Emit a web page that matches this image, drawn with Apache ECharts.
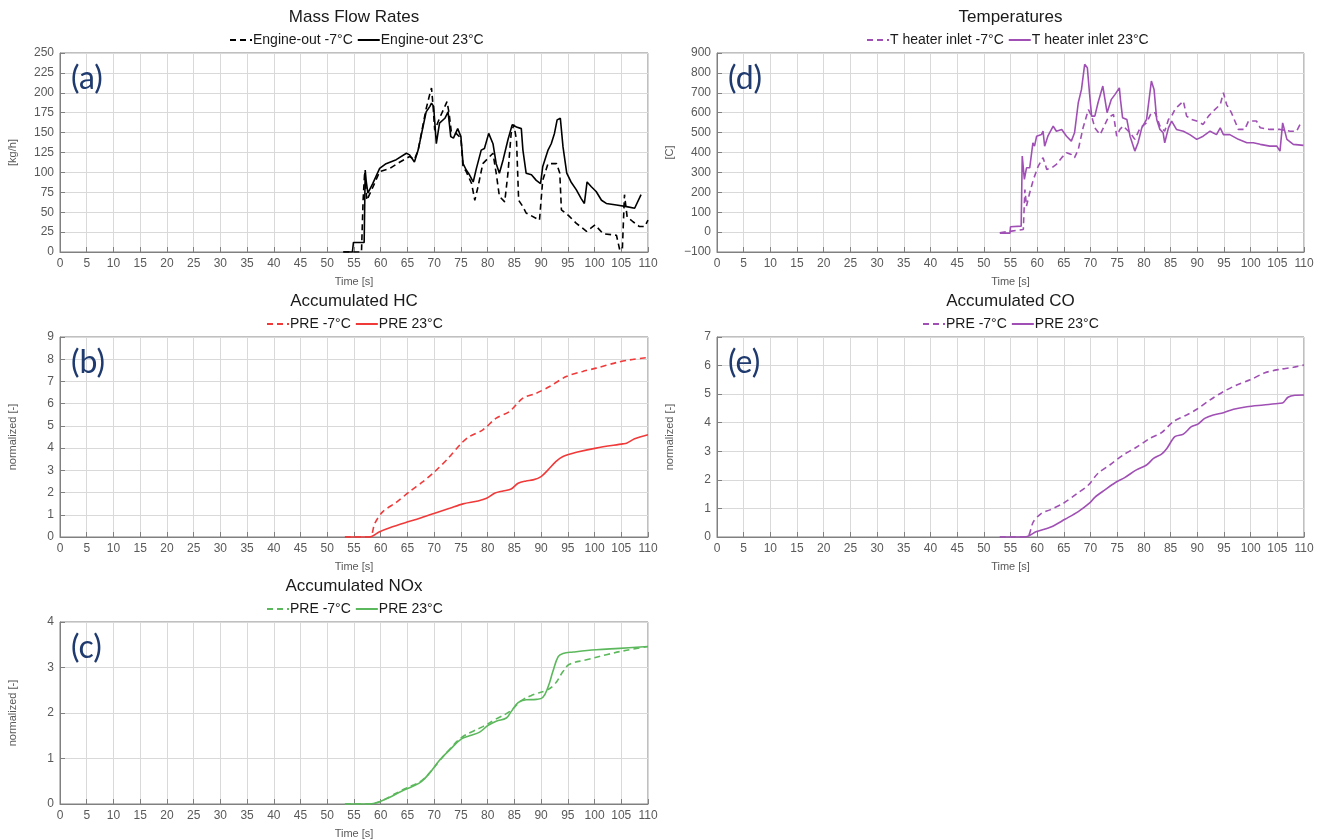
<!DOCTYPE html>
<html lang="en">
<head>
    <meta charset="UTF-8">
    <title>Mass flow, temperatures and accumulated emissions</title>
    <style>
        body { margin: 0; background: #fff; }
        #chart { width: 1320px; height: 840px; }
    </style>
    <script src="https://cdn.jsdelivr.net/npm/echarts@6/dist/echarts.min.js"></script>
</head>
<body>
<div id="chart"></div>
<script>
    // (a) Mass flow rates [kg/h]
    var flowColdT = [53, 56.4, 56.7, 57, 57.4, 58.3, 59.8, 61.7, 63.6, 65.4, 66.3, 67, 67.6, 68.5, 69.2, 69.5, 69.8, 70.1, 71, 72, 72.4, 72.8, 73.2, 74.1, 75, 75.4, 76, 77, 77.6, 78.2, 79.1, 80.4, 81, 81.6, 82.2, 83.2, 83.8, 84.4, 84.9, 85.4, 85.8, 86.6, 87.2, 89.7, 90.3, 91.3, 92.9, 93.5, 93.8, 95.1, 96.6, 98.5, 100.1, 101.6, 104.1, 104.7, 105.2, 105.6, 106.1, 107.2, 108.4, 109.4, 110];
    var flowCold  = [0, 0, 65, 101, 65, 78, 101, 105, 113, 120, 116, 128, 149, 180, 199, 206, 183, 153, 168, 183, 189, 174, 151, 149, 143, 107, 101, 86, 65, 82, 111, 120, 124, 99, 70, 63, 99, 149, 160, 141, 65, 57, 49, 40, 90, 111, 111, 99, 53, 46, 36, 26, 34, 23, 21, 3, 3, 72, 44, 38, 32, 32, 40];
    var flowWarmT = [53, 54.7, 54.9, 56.9, 57.1, 57.3, 57.6, 58.5, 59.8, 61, 62.9, 64.8, 65.4, 66.3, 67, 67.9, 68.5, 69.2, 69.5, 69.9, 70.4, 71, 72, 72.6, 73.1, 73.6, 74.4, 75, 75.4, 76, 76.6, 77.3, 77.9, 78.8, 79.4, 80.2, 81, 81.6, 82.2, 82.9, 83.8, 84.6, 85.4, 86.3, 86.6, 87.2, 88.2, 89.1, 89.9, 90.3, 91.3, 91.9, 92.5, 93, 93.6, 94.1, 94.8, 95.6, 96.6, 97.5, 98.1, 98.6, 99.4, 100.3, 101.3, 102.2, 104.1, 106, 107.5, 108.7];
    var flowWarm  = [0, 0, 12, 12, 103, 88, 74, 86, 105, 111, 116, 124, 122, 113, 128, 157, 176, 183, 187, 183, 136, 162, 168, 176, 145, 143, 155, 145, 111, 103, 97, 88, 105, 128, 130, 149, 136, 111, 99, 116, 141, 160, 157, 155, 128, 99, 97, 90, 86, 107, 128, 136, 149, 166, 168, 132, 99, 88, 78, 67, 61, 88, 82, 76, 65, 61, 59, 57, 55, 72];

    // (d) T heater inlet [C]
    var tempColdT = [53, 55.2, 57.4, 57.7, 58, 58.6, 59.3, 60.2, 61.1, 61.8, 62.7, 63.6, 64.6, 65.5, 66.4, 67, 67.7, 68.6, 69.6, 70.2, 70.8, 71.8, 72.4, 73.3, 74.3, 74.9, 75.5, 76.1, 77.4, 78.3, 79.3, 80.5, 81.4, 82.1, 83, 83.9, 84.6, 85.2, 85.8, 86.4, 87.4, 88, 88.9, 89.9, 91.1, 92.1, 93, 94.3, 94.9, 95.5, 96.4, 97.7, 98.9, 99.6, 101.1, 101.8, 103.6, 105.5, 107.4, 108.6, 109.6];
    var tempCold  = [-3, 5, 13, 214, 131, 198, 265, 332, 374, 315, 323, 340, 374, 399, 390, 374, 415, 524, 616, 583, 524, 490, 524, 575, 591, 482, 516, 533, 499, 466, 524, 549, 600, 600, 533, 507, 566, 583, 616, 633, 658, 583, 566, 558, 541, 583, 608, 641, 700, 641, 600, 516, 516, 558, 558, 524, 516, 516, 507, 507, 558];
    var tempWarmT = [53, 54.9, 55, 57, 57.2, 57.6, 58, 58.6, 59.2, 59.5, 59.9, 60.8, 61.1, 61.4, 62, 63, 63.6, 64.6, 65.5, 66.4, 67, 67.7, 68.3, 68.9, 69.4, 69.8, 70.2, 70.8, 71.4, 72.3, 72.7, 73.1, 73.9, 74.6, 75.4, 75.6, 76, 76.8, 77.4, 78.3, 78.9, 79.6, 80.5, 81.4, 81.9, 82.4, 83, 83.6, 83.9, 84.6, 85.2, 86.1, 87.4, 88.6, 89.9, 91.1, 92.4, 93.6, 94.3, 94.9, 96.1, 97.7, 99.3, 100.5, 101.8, 103.6, 104.9, 105.5, 106, 106.8, 108, 109.9];
    var tempWarm  = [-5, -5, 27, 30, 382, 265, 323, 323, 449, 432, 482, 490, 507, 432, 482, 532, 507, 516, 482, 457, 499, 650, 717, 843, 826, 700, 583, 583, 650, 734, 667, 600, 667, 692, 725, 667, 575, 566, 482, 407, 449, 524, 566, 759, 717, 566, 516, 499, 449, 524, 558, 516, 507, 490, 466, 482, 507, 490, 524, 490, 490, 466, 449, 449, 441, 432, 432, 407, 549, 466, 441, 436];

    // (b) Accumulated HC, normalized
    var hcColdT = [53.3, 57.9, 58.9, 60.4, 62.9, 65.4, 67.9, 70.1, 72.6, 75.1, 76.6, 79.1, 81.6, 84.1, 86.6, 89.1, 91.6, 94.7, 97.8, 100.3, 104.1, 106.6, 109.7, 110];
    var hcCold  = [0, 0, 0.62, 1.14, 1.56, 2.04, 2.49, 2.94, 3.54, 4.22, 4.52, 4.82, 5.35, 5.65, 6.25, 6.47, 6.77, 7.22, 7.45, 7.6, 7.85, 7.97, 8.07, 8.08];
    var hcWarmT = [53.3, 57.9, 59.8, 61.7, 64.8, 67.3, 70.1, 72.9, 75.4, 78.2, 79.8, 81.3, 82.9, 84.4, 85.7, 87.2, 88.5, 90, 91.3, 92.8, 94.1, 96.6, 100.3, 105.3, 106, 107.5, 110];
    var hcWarm  = [0, 0, 0.24, 0.42, 0.66, 0.84, 1.07, 1.29, 1.49, 1.62, 1.74, 1.97, 2.07, 2.16, 2.42, 2.52, 2.57, 2.72, 3.02, 3.4, 3.62, 3.81, 4.0, 4.19, 4.22, 4.42, 4.6];

    // (c) Accumulated NOx, normalized
    var noxColdT = [53.3, 57.9, 59.8, 61.7, 63.9, 66, 67.6, 69.2, 71, 72.9, 75.1, 77.3, 79.1, 81.6, 84.1, 86.3, 88.5, 91, 92.6, 94.1, 95.3, 98.5, 102.2, 106, 110];
    var noxCold  = [0, 0, 0.05, 0.16, 0.3, 0.41, 0.51, 0.69, 0.95, 1.2, 1.46, 1.6, 1.7, 1.87, 2.03, 2.27, 2.4, 2.5, 2.64, 2.91, 3.07, 3.17, 3.28, 3.38, 3.46];
    var noxWarmT = [53.3, 57.9, 59.8, 61.7, 63.9, 66, 67.6, 69.2, 71, 72.9, 75.1, 76.6, 78.5, 80.1, 81.6, 83.5, 84.4, 85.7, 87.2, 89.1, 90.3, 91.3, 92.2, 93.2, 94.1, 96, 100.3, 104.7, 110];
    var noxWarm  = [0, 0, 0.05, 0.15, 0.28, 0.39, 0.49, 0.69, 0.96, 1.19, 1.43, 1.5, 1.58, 1.73, 1.82, 1.89, 2.03, 2.23, 2.29, 2.3, 2.34, 2.57, 2.91, 3.24, 3.31, 3.34, 3.39, 3.42, 3.46];

    // (e) Accumulated CO, normalized
    var coColdT = [53, 58, 59.3, 60.8, 62.4, 64.9, 67.4, 69.6, 71.4, 73.6, 76.1, 78.6, 81.1, 83.3, 85.5, 88, 89.9, 92.4, 94.9, 97.4, 99.9, 102.7, 105.5, 108, 110];
    var coCold  = [0, 0, 0.54, 0.83, 0.95, 1.18, 1.51, 1.82, 2.23, 2.52, 2.87, 3.14, 3.45, 3.65, 4.04, 4.27, 4.47, 4.8, 5.09, 5.32, 5.5, 5.75, 5.87, 5.94, 6.02];
    var coWarmT = [53, 57.7, 59.9, 62.7, 65.2, 67.7, 69.9, 70.8, 72.7, 74.6, 76.4, 78.6, 80.5, 81.8, 83.3, 84.3, 85.8, 87.4, 88.9, 90.2, 91.4, 93, 94.9, 96.8, 99.3, 102.4, 105.5, 106.1, 107, 108.3, 110];
    var coWarm  = [0, 0, 0.19, 0.36, 0.62, 0.89, 1.2, 1.39, 1.65, 1.9, 2.08, 2.35, 2.52, 2.75, 2.9, 3.1, 3.51, 3.6, 3.86, 3.96, 4.15, 4.27, 4.35, 4.47, 4.56, 4.62, 4.68, 4.7, 4.89, 4.96, 4.97];

    var FONT = "'Liberation Sans', Arial, sans-serif";
    var BORDER = '#808080';
    var GRIDLINE = '#d9d9d9';
    var LABEL = '#595959';

    function pairs(xs, ys) {
        return xs.map(function (x, i) { return [x, ys[i]]; });
    }

    // one entry per panel; legendLeft is where the legend row starts
    var panels = [
        { key: 'a', title: 'Mass Flow Rates', box: [60, 53, 588, 199], y: [0, 250, 25], yName: '[kg/h]', color: '#000000', legendLeft: 229,
          names: ['Engine-out -7°C', 'Engine-out 23°C'], data: [pairs(flowColdT, flowCold), pairs(flowWarmT, flowWarm)], smooth: false },
        { key: 'b', title: 'Accumulated HC', box: [60, 337, 588, 200], y: [0, 9, 1], yName: 'normalized [-]', color: '#f03a3a', legendLeft: 266,
          names: ['PRE -7°C', 'PRE 23°C'], data: [pairs(hcColdT, hcCold), pairs(hcWarmT, hcWarm)], smooth: 0.3 },
        { key: 'c', title: 'Accumulated NOx', box: [60, 622, 588, 199], y: [0, 4, 1], yName: 'normalized [-]', color: '#5cb85c', legendLeft: 266,
          names: ['PRE -7°C', 'PRE 23°C'], data: [pairs(noxColdT, noxCold), pairs(noxWarmT, noxWarm)], smooth: 0.4 },
        { key: 'd', title: 'Temperatures', box: [717, 53, 587, 199], y: [-100, 900, 100], yName: '[C]', color: '#a050b4', legendLeft: 866,
          names: ['T heater inlet -7°C', 'T heater inlet 23°C'], data: [pairs(tempColdT, tempCold), pairs(tempWarmT, tempWarm)], smooth: false },
        { key: 'e', title: 'Accumulated CO', box: [717, 337, 587, 200], y: [0, 7, 1], yName: 'normalized [-]', color: '#a050b4', legendLeft: 922,
          names: ['PRE -7°C', 'PRE 23°C'], data: [pairs(coColdT, coCold), pairs(coWarmT, coWarm)], smooth: 0.3 }
    ];

    var option = { animation: false, title: [], legend: [], grid: [], xAxis: [], yAxis: [], series: [], graphic: [] };

    panels.forEach(function (p, i) {
        var left = p.box[0], top = p.box[1], w = p.box[2], h = p.box[3];
        var cx = left + w / 2;
        option.grid.push({ left: left, top: top, width: w, height: h, show: true, borderColor: BORDER, borderWidth: 1 });
        option.title.push({
            text: p.title, left: cx, top: top - 44, textAlign: 'center', padding: 0,
            textStyle: { fontFamily: FONT, fontSize: 17, fontWeight: 'normal', color: '#1a1a1a' }
        });
        var ids = p.names.map(function (n) { return n + ' (' + p.key + ')'; });
        option.legend.push({
            data: ids, left: p.legendLeft, top: top - 20, padding: 0, itemGap: 4, itemWidth: 22, itemHeight: 10,
            selectedMode: false,
            itemStyle: { color: 'rgba(0,0,0,0)', borderColor: 'rgba(0,0,0,0)', borderWidth: 0 },
            textStyle: { fontFamily: FONT, fontSize: 14, color: '#1a1a1a', padding: [0, 0, 0, -4] },
            formatter: function (name) { return name.replace(/ \([a-e]\)$/, ''); }
        });
        option.xAxis.push({
            type: 'value', gridIndex: i, min: 0, max: 110, interval: 5,
            name: 'Time [s]', nameLocation: 'middle', nameGap: 24,
            nameTextStyle: { fontFamily: FONT, fontSize: 11, color: LABEL },
            axisLine: { onZero: false, lineStyle: { color: BORDER } },
            axisTick: { inside: true, length: 5, lineStyle: { color: BORDER } },
            axisLabel: { fontFamily: FONT, fontSize: 12, color: LABEL, margin: 6 },
            splitLine: { lineStyle: { color: GRIDLINE } }
        });
        option.yAxis.push({
            type: 'value', gridIndex: i, min: p.y[0], max: p.y[1], interval: p.y[2],
            name: p.yName, nameLocation: 'middle', nameGap: 42,
            nameTextStyle: { fontFamily: FONT, fontSize: 11, color: LABEL },
            axisLine: { onZero: false, lineStyle: { color: BORDER } },
            axisTick: { inside: true, length: 5, lineStyle: { color: BORDER } },
            axisLabel: {
                fontFamily: FONT, fontSize: 12, color: LABEL, margin: 6,
                formatter: function (v) { return String(v).replace('-', '\u2212'); }
            },
            splitLine: { lineStyle: { color: GRIDLINE } }
        });
        [0, 1].forEach(function (k) {
            option.series.push({
                name: ids[k], type: 'line', xAxisIndex: i, yAxisIndex: i,
                data: p.data[k], showSymbol: false, symbol: 'none', smooth: p.smooth,
                color: p.color,
                lineStyle: { color: p.color, width: 1.6, type: k === 0 ? [6, 4] : 'solid' }
            });
        });
        option.graphic.push({
            type: 'text', left: left + 11, top: top + 10, z: 10,
            style: { text: '(' + p.key + ')', font: '32px Lato, sans-serif', fill: '#1f3a6e' }
        });
    });

    var chart = echarts.init(document.getElementById('chart'));
    chart.setOption(option);
</script>
</body>
</html>
